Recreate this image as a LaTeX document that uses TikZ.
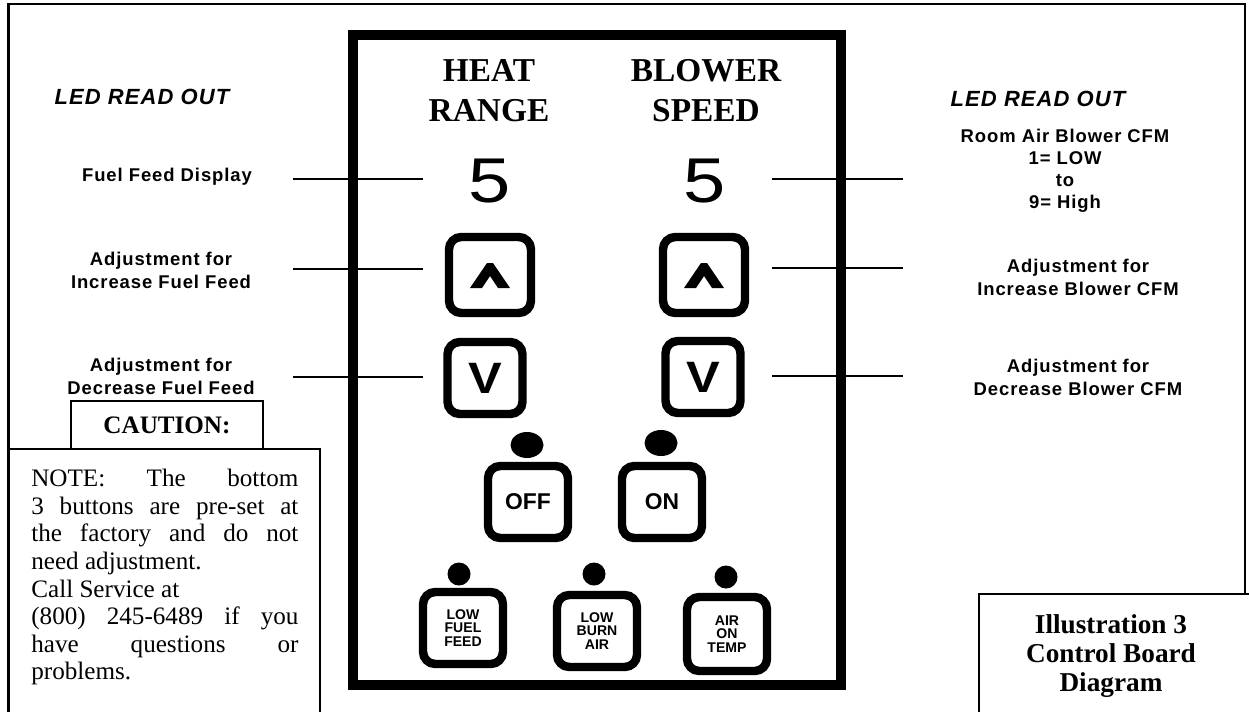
\documentclass[tikz,border=0pt]{standalone}
\usepackage{fontspec}
\usepackage{graphicx}
\setmainfont{Liberation Serif}
\newfontfamily\lblfont[LetterSpace=5]{Liberation Sans}
\newfontfamily\keyfont{Liberation Sans}
\usetikzlibrary{shapes.geometric}

\tikzset{
  frameline/.style={line width=1.2pt},
  boxline/.style={line width=1pt},
  leader/.style={line width=1.1pt},
  ledhead/.style={font=\lblfont\bfseries\itshape\fontsize{12.5}{15}\selectfont, inner sep=0pt},
  lbl/.style={font=\lblfont\bfseries\fontsize{10.5}{13}\selectfont, align=center, inner sep=0pt},
  head/.style={font=\bfseries\fontsize{19}{22.7}\selectfont, align=center, inner sep=0pt},
  digit/.style={font=\keyfont\fontsize{36}{40}\selectfont, inner sep=0pt},
  keybtn/.style={draw, line width=4.8pt, rounded corners=7pt, minimum width=1.6cm,
    minimum height=1.44cm, inner sep=0pt, align=center,
    font=\keyfont\bfseries\fontsize{13}{14}\selectfont},
  arrowkey/.style={keybtn, font=\keyfont\bfseries\fontsize{25}{26}\selectfont},
  smallkey/.style={keybtn, font=\keyfont\bfseries\fontsize{8}{7.8}\selectfont},
  led/.style={ellipse, fill, inner sep=0pt, minimum width=0.66cm, minimum height=0.52cm},
  smallled/.style={led, minimum width=0.46cm, minimum height=0.46cm}
}

\begin{document}
\begin{tikzpicture}[x=0.2mm, y=-0.2mm]
  \useasboundingbox (0,0) rectangle (1249,711);
  \clip (0,0) rectangle (1249,711);
  % page frame
  \draw[frameline] (1245,594) -- (1245,4) -- (8.5,4) -- (8.5,720);

  % control board
  \draw[line width=5.7pt] (353,35) rectangle (841,685);
  \node[head] (heat) at (489,91) {HEAT\\RANGE};
  \node[head] (blower) at (706,91) {BLOWER\\SPEED};
  \node[digit] (heatval) at (490,181) {\scalebox{1.2}[1]{5}};
  \node[digit] (blowval) at (705,181) {\scalebox{1.2}[1]{5}};
  \node[keybtn, minimum width=1.64cm, minimum height=1.52cm] (upL) at (490,275) {};
  \node[keybtn, minimum width=1.64cm, minimum height=1.52cm] (upR) at (704,275) {};
  \foreach \k in {upL,upR}
    \fill[shift={(\k.center)}] (-20,13) -- (-3,-12) -- (3,-12) -- (20,13)
      -- (8,13) -- (0,1) -- (-8,13) -- cycle;
  \node[arrowkey, minimum width=1.5cm] (dnL) at (485,378) {\scalebox{1.15}[1]{V}};
  \node[arrowkey, minimum width=1.5cm] (dnR) at (703,377) {\scalebox{1.15}[1]{V}};
  \node[led] (ledoff) at (527,445) {};
  \node[led] (ledon) at (661,443) {};
  \node[keybtn] (off) at (528,502) {OFF};
  \node[keybtn] (on) at (662,502) {ON};
  \node[smallled] (ledfuel) at (459,574) {};
  \node[smallled] (ledburn) at (594,574) {};
  \node[smallled] (ledtemp) at (726,577) {};
  \node[smallkey] (lowfuel) at (463,628) {LOW\\FUEL\\FEED};
  \node[smallkey] (lowburn) at (597,631) {LOW\\BURN\\AIR};
  \node[smallkey, minimum height=1.48cm] (airtemp) at (727,634) {AIR\\ON\\TEMP};

  % left read out
  \node[ledhead] (ledL) at (142,97) {LED READ OUT};
  \node[lbl] (fuelshow) at (167,177) {Fuel Feed Display};
  \node[lbl] (fuelup) at (161,270) {Adjustment for\\Increase Fuel Feed};
  \node[lbl] (fueldn) at (161,376) {Adjustment for\\Decrease Fuel Feed};
  \foreach \i/\y in {1/179,2/269,3/377} {
    \coordinate (L\i-a) at (293,\y);
    \coordinate (L\i-b) at (423,\y);
    \draw[leader] (L\i-a) -- (L\i-b);
  }

  % right read out
  \node[ledhead] (ledR) at (1038,98.5) {LED READ OUT};
  \node[lbl, font=\lblfont\bfseries\fontsize{10.5}{12.5}\selectfont] (cfmshow) at (1065,171)
    {Room Air Blower CFM\\1= LOW\\to\\9= High};
  \node[lbl] (cfmup) at (1078,277) {Adjustment for\\Increase Blower CFM};
  \node[lbl] (cfmdn) at (1078,377) {Adjustment for\\Decrease Blower CFM};
  \foreach \i/\y in {1/179,2/268,3/376} {
    \coordinate (R\i-a) at (772,\y);
    \coordinate (R\i-b) at (903,\y);
    \draw[leader] (R\i-a) -- (R\i-b);
  }

  % caution and note
  \draw[boxline] (8.5,720) |- (320,449) -- (320,720);
  \node[boxline, draw, minimum width=3.84cm, minimum height=0.96cm, inner sep=0pt,
    font=\bfseries\fontsize{14.3}{16}\selectfont] (caution) at (167,425) {CAUTION:};
  \node[anchor=north west, inner sep=0pt, text width=152pt, align=justify,
    font=\fontsize{14.3}{15.7}\selectfont] (note) at (31,467)
    {\strut NOTE: The bottom\linebreak
     3 buttons are pre-set at\linebreak
     the factory and do not\linebreak
     need adjustment.\newline
     Call Service at\newline
     (800) 245-6489 if you\linebreak
     have questions or\linebreak
     problems.};

  % caption
  \draw[boxline] (979,720) -- (979,594) -- (1260,594);
  \node[anchor=north, inner sep=0pt, align=center,
    font=\bfseries\fontsize{15.5}{16.7}\selectfont] (illus) at (1111,614)
    {Illustration 3\\Control Board\\Diagram};
\end{tikzpicture}
\end{document}
